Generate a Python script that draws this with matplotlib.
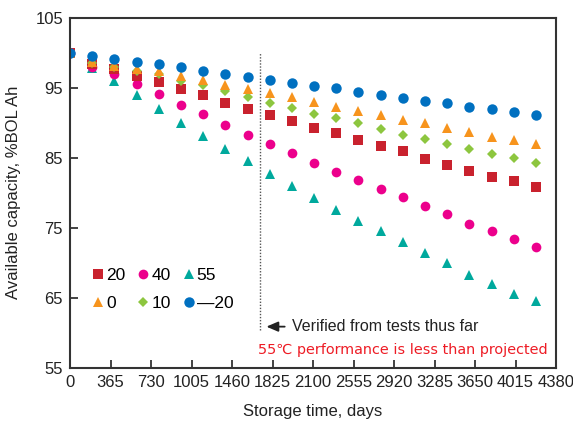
import matplotlib
matplotlib.use("Agg")
import matplotlib.pyplot as plt

plt.rcParams["font.family"] = ["Liberation Sans Narrow", "Liberation Sans", "DejaVu Sans"]

# storage time (days) for each measurement
days = [0, 200, 400, 600, 800, 1000, 1200, 1400, 1600, 1800, 2000,
        2200, 2400, 2600, 2800, 3000, 3200, 3400, 3600, 3800, 4000, 4200]

# available capacity, %BOL Ah, one list per storage temperature
cap_m20 = [100, 99.5, 99.1, 98.7, 98.3, 97.9, 97.4, 96.9, 96.5, 96.1, 95.6,
           95.2, 94.9, 94.4, 94.0, 93.5, 93.1, 92.8, 92.3, 92.0, 91.5, 91.1]
cap_0 = [100, 98.6, 98.1, 97.7, 97.4, 96.7, 96.1, 95.4, 94.8, 94.2, 93.6,
         93.0, 92.3, 91.6, 91.1, 90.4, 89.9, 89.2, 88.7, 88.0, 87.5, 87.0]
cap_10 = [100, 98.5, 97.9, 97.3, 96.9, 96.0, 95.4, 94.5, 93.7, 92.8, 92.1,
          91.3, 90.7, 89.9, 89.1, 88.3, 87.6, 86.9, 86.3, 85.5, 84.9, 84.2]
cap_20 = [100, 98.3, 97.6, 96.7, 95.8, 94.8, 94.0, 92.8, 92.0, 91.1, 90.3,
          89.2, 88.5, 87.5, 86.7, 85.9, 84.8, 84.0, 83.1, 82.2, 81.7, 80.8]
cap_40 = [100, 98.0, 97.0, 95.5, 94.1, 92.5, 91.2, 89.7, 88.3, 86.9, 85.7,
          84.3, 83.0, 81.8, 80.5, 79.4, 78.1, 76.9, 75.6, 74.6, 73.4, 72.3]
cap_55 = [100, 97.8, 95.9, 94.0, 92.0, 90.0, 88.1, 86.3, 84.6, 82.7, 81.0,
          79.3, 77.6, 76.0, 74.5, 73.0, 71.4, 70.0, 68.3, 67.0, 65.6, 64.5]

xtick_pos = [0, 365, 730, 1095, 1460, 1825, 2190, 2555, 2920, 3285, 3650, 4015, 4380]
xtick_labels = ["0", "365", "730", "1005", "1460", "1825", "2100", "2555",
                "2920", "3285", "3650", "4015", "4380"]
ytick_pos = [55, 65, 75, 85, 95, 105]

fig = plt.figure(figsize=(5.73, 4.21), dpi=100)
ax = fig.add_axes([70 / 573, 1 - 368 / 421, 486 / 573, 350.5 / 421])

# draw order: bottom series first, blue on top
series = [
    ("55", cap_55, "^", "#00A99D", 7.5),
    ("40", cap_40, "o", "#EC008C", 7),
    ("20", cap_20, "s", "#C9222E", 6.5),
    ("10", cap_10, "D", "#8DC63F", 5.5),
    ("0", cap_0, "^", "#F7941D", 7.5),
    ("\u201420", cap_m20, "o", "#0070C0", 7.5),
]
handles = {}
for label, vals, mk, col, ms in series:
    h, = ax.plot(days, vals, linestyle="none", marker=mk, color=col,
                 markersize=ms, markeredgewidth=0, label=label)
    handles[label] = h

ax.vlines(1710, 60.4, 100, colors="#555555", linestyles=(0, (1, 1.2)), lw=1.0)

ax.annotate("", xy=(1745, 60.9), xytext=(1960, 60.9),
            arrowprops=dict(arrowstyle="-|>,head_length=0.7,head_width=0.3",
                            color="#222222", lw=1.3))
ax.text(2000, 60.9, "Verified from tests thus far", fontsize=11.5,
        color="#222222", va="center", ha="left")
ax.text(1690, 57.6, "55\u2103 performance is less than projected", fontsize=10.4,
        color="#EE1C25", va="center", ha="left",
        family=["Liberation Sans Narrow", "DejaVu Sans"])

order = ["20", "0", "40", "10", "55", "\u201420"]
leg = ax.legend([handles[k] for k in order], order, ncol=3, frameon=False,
                loc="upper left", bbox_to_anchor=(0.033, 0.305),
                fontsize=12.5, handlelength=0.6, handletextpad=0.15,
                columnspacing=0.75, labelspacing=0.75, borderaxespad=0)

ax.set_xlim(0, 4380)
ax.set_ylim(55, 105)
ax.set_xticks(xtick_pos)
ax.set_xticklabels(xtick_labels)
ax.set_yticks(ytick_pos)
ax.tick_params(direction="in", length=6, width=1.2, labelsize=12,
               colors="#222222", pad=5)
for sp in ax.spines.values():
    sp.set_linewidth(1.5)
    sp.set_color("#333333")

ax.set_xlabel("Storage time, days", fontsize=12, color="#222222", labelpad=10)
ax.set_ylabel("Available capacity, %BOL Ah", fontsize=12, color="#222222",
              labelpad=10)

fig.savefig("out.png", dpi=100)
